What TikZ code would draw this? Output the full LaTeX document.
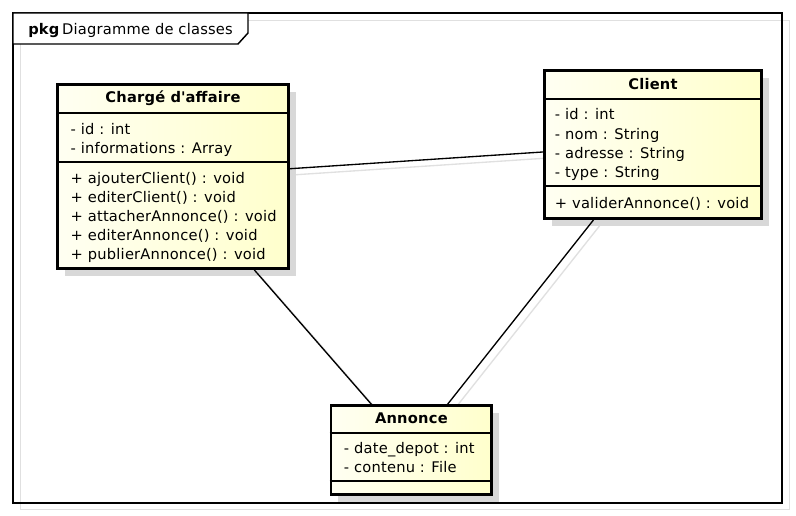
\documentclass[tikz,border=0pt]{standalone}
\usepackage{fontspec}
\setmainfont{DejaVu Sans}[LetterSpace=1.5]
\usetikzlibrary{positioning}
\usetikzlibrary{shadows,backgrounds}
\definecolor{classlight}{RGB}{255,255,242}
\definecolor{classdark}{RGB}{255,255,204}
\definecolor{shadowgray}{RGB}{216,216,216}
\definecolor{linegray}{RGB}{224,224,224}
\newcommand{\memberlist}[1]{%
  \raisebox{-1.8pt}[\height][\depth]{\begin{tabular}{@{}l@{}}#1\end{tabular}}}

\begin{document}
\begin{tikzpicture}[x=.75pt,y=-.75pt,
  font={\fontsize{11}{14.4}\selectfont},
  classbox/.style={draw, line width=2.2pt, inner sep=0pt,
    left color=classlight, right color=classdark, anchor=north west,
    drop shadow={shadow xshift=5.5pt, shadow yshift=-5.5pt,
      fill=shadowgray, opacity=1}},
  classname/.style={anchor=north, inner sep=0pt, font={\fontsize{11}{14.4}\bfseries}},
  members/.style={anchor=north west, inner sep=0pt},
  compartment/.style={line width=1.2pt},
  assoc/.style={line width=1pt},
  assocshadow/.style={draw=linegray, line width=1pt,
    transform canvas={shift={(6,6)}}},
  frameline/.style={line width=1.1pt},
  frameshadow/.style={draw=linegray, line width=1.1pt}]
\useasboundingbox (0,0) rectangle (796,516);

% package frame
\draw[frameshadow] (20.5,20.5) rectangle (789.5,509.5);
\draw[frameline] (13,13) rectangle (782,503);
\draw[frameline, fill=white] (13,13) -- (248,13) -- (248,33)
  -- (238,44) -- (13,44) -- cycle;
\node[anchor=base west, inner sep=0pt] (tab) at (28,35)
  {\textbf{pkg}\,Diagramme de classes};

% Charge d'affaire
\node[classbox, minimum width=173.25pt, minimum height=138pt] (charge) at (56,83) {};
\node[classname, minimum height=22.3pt] (charge name) at (charge.north)
  {Chargé d\textquotesingle affaire};
\node[members, minimum height=36pt, xshift=10.8pt] (charge attrs)
  at (charge.west |- charge name.south) {\memberlist{
  - id : int \\
  - informations : Array}};
\node[members, minimum height=79.7pt, xshift=10.8pt] (charge ops)
  at (charge.west |- charge attrs.south) {\memberlist{
  + ajouterClient() : void \\
  + editerClient() : void \\
  + attacherAnnonce() : void \\
  + editerAnnonce() : void \\
  + publierAnnonce() : void}};
\draw[compartment] (charge.west |- charge name.south) -- (charge.east |- charge name.south)
                   (charge.west |- charge attrs.south) -- (charge.east |- charge attrs.south);

% Client
\node[classbox, minimum width=162.75pt, minimum height=110.6pt] (client) at (543,69.5) {};
\node[classname, minimum height=21.6pt] (client name) at (client.north) {Client};
\node[members, minimum height=65pt, xshift=8.75pt] (client attrs)
  at (client.west |- client name.south) {\memberlist{
  - id : int \\
  - nom : String \\
  - adresse : String \\
  - type : String}};
\node[members, minimum height=24pt, xshift=8.75pt] (client ops)
  at (client.west |- client attrs.south) {\memberlist{
  + validerAnnonce() : void}};
\draw[compartment] (client.west |- client name.south) -- (client.east |- client name.south)
                   (client.west |- client attrs.south) -- (client.east |- client attrs.south);

% Annonce
\node[classbox, minimum width=120.6pt, minimum height=66.4pt] (annonce) at (329.5,404.5) {};
\node[classname, minimum height=20.85pt] (annonce name) at (annonce.north) {Annonce};
\node[members, minimum height=35.8pt, xshift=10.6pt] (annonce attrs)
  at (annonce.west |- annonce name.south) {\memberlist{
  - date\_depot : int \\
  - contenu : File}};
\draw[compartment] (annonce.west |- annonce name.south) -- (annonce.east |- annonce name.south)
                   (annonce.west |- annonce attrs.south) -- (annonce.east |- annonce attrs.south);

% associations
\begin{scope}[on background layer]
\fill[white] (0,0) rectangle (796,516);
\draw (charge) edge[assocshadow] (client)
      (charge) edge[assocshadow] (annonce)
      (client) edge[assocshadow] (annonce);
\end{scope}
\draw (charge) edge[assoc] (client)
      (charge) edge[assoc] (annonce)
      (client) edge[assoc] (annonce);
\end{tikzpicture}
\end{document}
